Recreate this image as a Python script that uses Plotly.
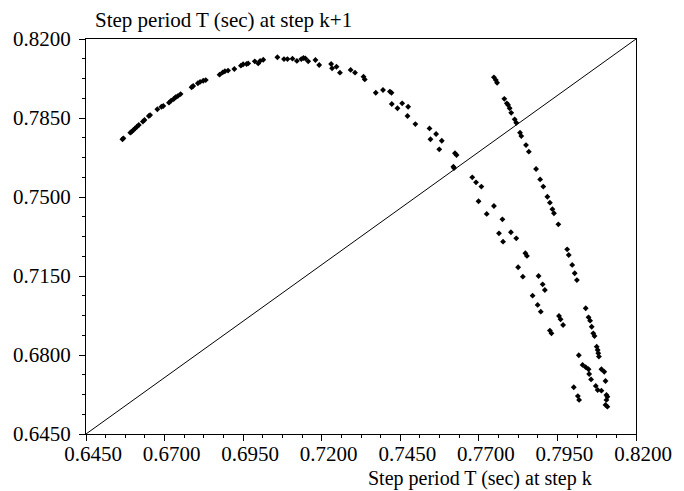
import plotly.graph_objects as go

# Step period T at step k (x) and at step k+1 (y)
t_k = [
    0.6566, 0.6569, 0.6591, 0.6595, 0.6601, 0.6606, 0.6612, 0.6618, 0.6631, 0.6636,
    0.6650, 0.6654, 0.6677, 0.6690, 0.6696, 0.6714, 0.6721, 0.6729, 0.6735, 0.6742,
    0.6751, 0.6786, 0.6791, 0.6806, 0.6813, 0.6823, 0.6831, 0.6875, 0.6885, 0.6892,
    0.6902, 0.6922, 0.6943, 0.6950, 0.6961, 0.6966, 0.6987, 0.6998, 0.7004, 0.7014,
    0.7059, 0.7080, 0.7091, 0.7107, 0.7121, 0.7135, 0.7142, 0.7148, 0.7157, 0.7180,
    0.7192, 0.7230, 0.7233, 0.7247, 0.7258, 0.7292, 0.7306, 0.7333, 0.7337, 0.7372,
    0.7395, 0.7417, 0.7422, 0.7423, 0.7441, 0.7456, 0.7475, 0.7473, 0.7498, 0.7543,
    0.7564, 0.7582, 0.7546, 0.7574, 0.7624, 0.7629, 0.7619, 0.7621,
    0.7748, 0.7754, 0.7758, 0.7781, 0.7789, 0.7793, 0.7798, 0.7803, 0.7814, 0.7819,
    0.7831, 0.7835, 0.7850, 0.7859, 0.7882, 0.7895, 0.7905, 0.7918, 0.7926, 0.7934,
    0.7939, 0.7953, 0.7981, 0.7986, 0.7997, 0.8005, 0.8012, 0.8040, 0.8049, 0.8054,
    0.8059, 0.8064, 0.8068, 0.8075, 0.8078, 0.8080, 0.8082, 0.8090, 0.8099, 0.8103,
    0.8106, 0.8109, 0.8106, 0.8103, 0.8109,
    0.8018, 0.8030, 0.8040, 0.8049, 0.8051, 0.8057, 0.8072, 0.8078, 0.8090, 0.8002,
    0.8015, 0.8019,
    0.7679, 0.7691, 0.7708, 0.7699, 0.7748, 0.7725, 0.7775, 0.7764, 0.7777, 0.7802,
    0.7819, 0.7848, 0.7853, 0.7825, 0.7840, 0.7890, 0.7903, 0.7910, 0.7871, 0.7887,
    0.7897, 0.7955, 0.7960, 0.7968, 0.7926, 0.7931,
]
t_k1 = [
    0.7756, 0.7760, 0.7785, 0.7789, 0.7797, 0.7804, 0.7811, 0.7819, 0.7834, 0.7841,
    0.7859, 0.7863, 0.7889, 0.7900, 0.7903, 0.7918, 0.7927, 0.7934, 0.7942, 0.7947,
    0.7956, 0.7986, 0.7992, 0.8004, 0.8010, 0.8015, 0.8018, 0.8042, 0.8052, 0.8057,
    0.8060, 0.8067, 0.8082, 0.8088, 0.8089, 0.8092, 0.8101, 0.8092, 0.8103, 0.8108,
    0.8119, 0.8111, 0.8111, 0.8113, 0.8103, 0.8111, 0.8116, 0.8114, 0.8101, 0.8107,
    0.8085, 0.8089, 0.8070, 0.8077, 0.8051, 0.8063, 0.8051, 0.8033, 0.8021, 0.7962,
    0.7974, 0.7967, 0.7962, 0.7912, 0.7893, 0.7915, 0.7900, 0.7859, 0.7823, 0.7804,
    0.7779, 0.7749, 0.7756, 0.7711, 0.7694, 0.7686, 0.7634, 0.7628,
    0.8030, 0.8018, 0.8006, 0.7935, 0.7915, 0.7908, 0.7893, 0.7873, 0.7844, 0.7829,
    0.7785, 0.7770, 0.7730, 0.7701, 0.7624, 0.7578, 0.7546, 0.7501, 0.7475, 0.7446,
    0.7428, 0.7379, 0.7268, 0.7243, 0.7199, 0.7162, 0.7132, 0.7007, 0.6967, 0.6952,
    0.6925, 0.6896, 0.6884, 0.6837, 0.6822, 0.6808, 0.6793, 0.6737, 0.6726, 0.6685,
    0.6623, 0.6615, 0.6601, 0.6579, 0.6571,
    0.6799, 0.6756, 0.6746, 0.6737, 0.6716, 0.6692, 0.6663, 0.6645, 0.6642, 0.6657,
    0.6618, 0.6601,
    0.7587, 0.7565, 0.7546, 0.7481, 0.7460, 0.7425, 0.7401, 0.7339, 0.7302, 0.7344,
    0.7317, 0.7251, 0.7239, 0.7189, 0.7147, 0.7150, 0.7113, 0.7088, 0.7063, 0.7022,
    0.6992, 0.6973, 0.6958, 0.6933, 0.6908, 0.6896,
]
diag = [0.645, 0.82]
tick_vals_x = [0.645, 0.67, 0.695, 0.72, 0.745, 0.77, 0.795, 0.82]
tick_vals_y = [0.645, 0.68, 0.715, 0.75, 0.785, 0.82]
x_title = "Step period T (sec) at step k"
y_title = "Step period T (sec) at step k+1"

FONT = "Liberation Serif, Times New Roman, serif"
FS = 21

fig = go.Figure()
fig.add_trace(go.Scatter(x=diag, y=diag, mode="lines",
                         line=dict(color="black", width=1), hoverinfo="skip",
                         showlegend=False))
fig.add_trace(go.Scatter(x=t_k, y=t_k1, mode="markers",
                         marker=dict(symbol="diamond", size=4.5, color="black",
                                     line=dict(width=0)),
                         showlegend=False))

axis_common = dict(
    showgrid=False, zeroline=False, showline=True, linecolor="black",
    linewidth=1.2, mirror=True, ticks="outside", ticklen=6, tickwidth=1.2,
    tickcolor="black", tickformat=".4f",
    tickfont=dict(family=FONT, size=FS, color="black"),
)

fig.update_xaxes(range=[0.645, 0.82], tickvals=tick_vals_x,
                 ticklabelshift=7, ticklabelstandoff=-5,
                 minor=dict(dtick=0.00625, tick0=0.645, ticks="outside",
                            ticklen=3, tickwidth=1.2, tickcolor="black"),
                 **axis_common)
fig.update_yaxes(range=[0.645, 0.82], tickvals=tick_vals_y,
                 ticklabelstandoff=4,
                 minor=dict(dtick=0.00875, tick0=0.645, ticks="outside",
                            ticklen=3, tickwidth=1.2, tickcolor="black"),
                 **axis_common)

fig.add_annotation(text=x_title, xref="paper", yref="paper",
                   x=0.717, y=-0.1437, xanchor="center", yanchor="bottom",
                   borderpad=0,
                   showarrow=False, font=dict(family=FONT, size=20, color="black"))
fig.add_annotation(text=y_title, xref="paper", yref="paper",
                   x=0.0125, y=1.048, xanchor="left", yanchor="middle",
                   showarrow=False, font=dict(family=FONT, size=FS, color="black"))

fig.update_layout(
    width=684, height=491,
    margin=dict(l=86, r=39, t=39, b=57),
    paper_bgcolor="white", plot_bgcolor="white",
    font=dict(family=FONT, size=FS, color="black"),
)

fig.write_html("out.html")
